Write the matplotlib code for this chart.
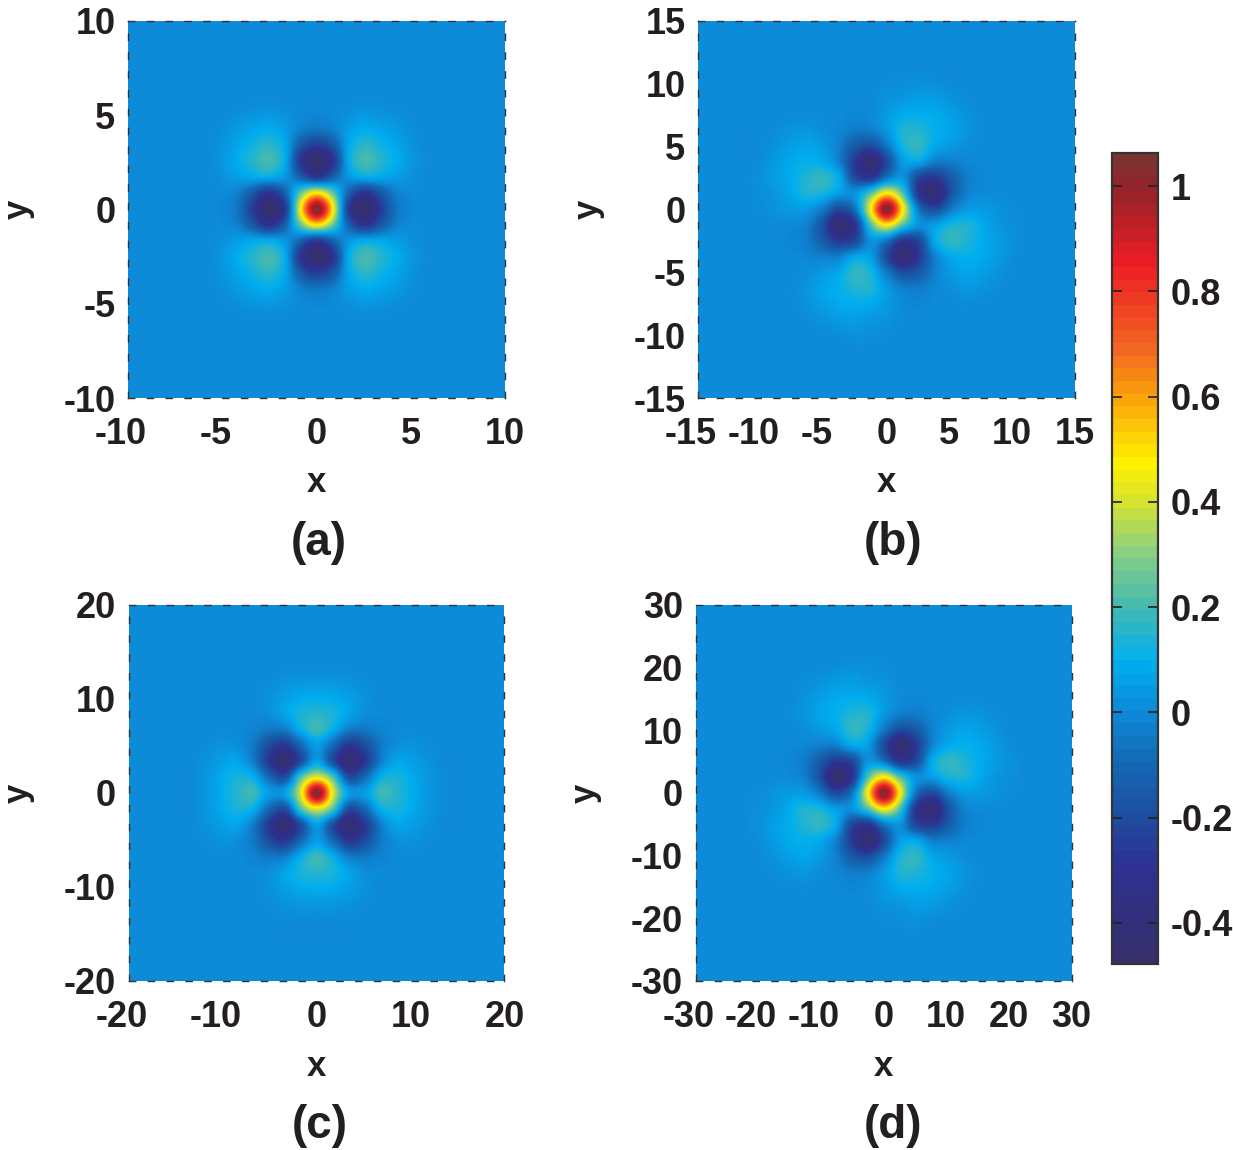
import numpy as np
import matplotlib
matplotlib.use("Agg")
import matplotlib.pyplot as plt
from matplotlib.cm import ScalarMappable
from matplotlib.colors import LinearSegmentedColormap, Normalize
from matplotlib.transforms import ScaledTranslation

plt.rcParams['font.family'] = ['Liberation Sans', 'DejaVu Sans']
plt.rcParams['font.weight'] = 'bold'
plt.rcParams['axes.unicode_minus'] = False

W, H = 1233, 1150
TEXT = '#231F20'

# Values on a 16 px lattice, centre in the first corner.
QUAD_A = [
    [1.05, .48, -.28, -.47, -.26, -.06, -.01, 0, 0],
    [.48, .25, -.13, -.30, -.16, -.03, 0, 0, 0],
    [-.28, -.13, .03, .09, .08, .05, .015, 0, 0],
    [-.47, -.30, .09, .20, .15, .09, .03, 0, 0],
    [-.26, -.16, .08, .16, .12, .07, .02, 0, 0],
    [-.06, -.03, .05, .09, .07, .04, .01, 0, 0],
    [-.01, 0, .015, .03, .02, .01, 0, 0, 0],
    [0, 0, 0, 0, 0, 0, 0, 0, 0],
    [0, 0, 0, 0, 0, 0, 0, 0, 0],
]
QUAD_C = [
    [1.05, .42, .06, .05, .19, .15, .09, .03, 0],
    [.42, .22, -.20, -.10, .10, .13, .08, .03, 0],
    [.06, -.20, -.45, -.28, -.04, .07, .05, .02, 0],
    [.05, -.10, -.28, -.20, -.05, .01, .02, .005, 0],
    [.19, .10, -.04, -.05, -.02, 0, 0, 0, 0],
    [.15, .13, .07, .01, 0, 0, 0, 0, 0],
    [.09, .08, .05, .02, 0, 0, 0, 0, 0],
    [.03, .03, .02, .005, 0, 0, 0, 0, 0],
    [0, 0, 0, 0, 0, 0, 0, 0, 0],
]
# Panel (b): one wedge, right of the centre and at or below it.
CENTRE_B = 1.05
WEDGE_B = [
    [.47, -.07, -.21, -.05, .04, .04, .02, .005],
    [.22, .02, .05, .13, .14, .08, .03, .01],
    [-.30, -.22, .08, .17, .14, .09, .05, .015],
    [-.45, -.27, -.03, .08, .10, .08, .04, .005],
    [-.19, -.15, -.03, .04, .07, .05, .02, 0],
    [-.03, -.04, -.01, .01, .03, .02, .005, 0],
    [0, -.01, 0, 0, .005, 0, 0, 0],
    [0, 0, 0, 0, 0, 0, 0, 0],
    [0, 0, 0, 0, 0, 0, 0, 0],
]

TICKS_A = [-10, -5, 0, 5, 10]
TICKS_B = [-15, -10, -5, 0, 5, 10, 15]
TICKS_C = [-20, -10, 0, 10, 20]
TICKS_D = [-30, -20, -10, 0, 10, 20, 30]
CBAR_TICKS = [-0.4, -0.2, 0, 0.2, 0.4, 0.6, 0.8, 1]
CBAR_LABELS = ['-0.4', '-0.2', '0', '0.2', '0.4', '0.6', '0.8', '1']
VMIN, VMAX = -0.478, 1.063

STOPS = [
    (-0.478, '#362F6C'), (-0.40, '#312F7C'), (-0.30, '#2E3192'), (-0.20, '#1C4FA0'),
    (-0.10, '#1469B4'), (0.0, '#0D8BD9'), (0.094, '#00AEEF'), (0.20, '#45B9B0'),
    (0.30, '#86CF84'), (0.40, '#D7E232'), (0.476, '#FFF200'), (0.60, '#FAA50A'),
    (0.70, '#F26522'), (0.86, '#ED1C24'), (1.0, '#962329'), (1.063, '#7D3232'),
]
SEGMENTS = [((v - VMIN) / (VMAX - VMIN), c) for v, c in STOPS]
cmap = LinearSegmentedColormap.from_list('jetlike', SEGMENTS, N=512)
cmap_bar = LinearSegmentedColormap.from_list('jetbands', SEGMENTS, N=64)
norm = Normalize(VMIN, VMAX)


def mirror(q):
    q = np.array(q, dtype=float)
    return np.pad(q, ((8, 0), (8, 0)), mode='reflect')


def turn(centre, wedge):
    base = np.zeros((17, 17))
    base[8:17, 9:17] = np.array(wedge, dtype=float)
    full = sum(np.rot90(base, k) for k in range(4))
    full[8, 8] = centre
    return full


FIELD_B = turn(CENTRE_B, WEDGE_B)
PANELS = [
    (mirror(QUAD_A), 10, TICKS_A, (128, 21, 505, 398), '(a)', (319, 543)),
    (FIELD_B, 15, TICKS_B, (698, 21, 1075, 398), '(b)', (893, 543)),
    (mirror(QUAD_C), 20, TICKS_C, (128, 605, 505, 981), '(c)', (320, 1126)),
    (FIELD_B[:, ::-1], 30, TICKS_D, (695, 605, 1072, 981), '(d)', (893, 1126)),
]

fig = plt.figure(figsize=(W / 100, H / 100), dpi=100, facecolor='white')


def box(x0, y0, x1, y1):
    return [x0 / W, 1 - y1 / H, (x1 - x0) / W, (y1 - y0) / H]


for field, rng, ticks, px, tag, tag_pos in PANELS:
    ax = fig.add_axes(box(*px))
    half = 136 / ((px[2] - px[0]) / 2) * rng
    ax.set_facecolor(cmap(norm(0.0)))
    ax.imshow(field, cmap=cmap, norm=norm, extent=(-half, half, -half, half),
              interpolation='catrom', interpolation_stage='data', zorder=1)
    ax.set_xlim(-rng, rng)
    ax.set_ylim(-rng, rng)
    ax.set_xticks(ticks)
    ax.set_yticks(ticks)
    ax.set_xticklabels([str(t) for t in ticks])
    ax.set_yticklabels([str(t) for t in ticks])
    ax.tick_params(axis='both', length=0, labelsize=26, labelcolor=TEXT)
    ax.tick_params(axis='x', pad=14)
    ax.tick_params(axis='y', pad=9)
    for tick, t in zip(ax.xaxis.get_major_ticks(), ticks):
        if t < 0:
            lab = tick.label1
            lab.set_transform(lab.get_transform() +
                              ScaledTranslation(-7 / 100, 0, fig.dpi_scale_trans))
    for spine in ax.spines.values():
        spine.set_color('#333333')
        spine.set_linewidth(1.0)
        spine.set_linestyle((0, (4.5, 9.07)))
    cx = (px[0] + px[2]) / 2
    cy = (px[1] + px[3]) / 2
    fig.text(cx / W, 1 - (px[3] + 85) / H, 'x', ha='center', va='center',
             fontsize=25, color=TEXT)
    fig.text((px[0] - 110) / W, 1 - cy / H, 'y', ha='center', va='center',
             rotation=90, fontsize=25, color=TEXT)
    fig.text(tag_pos[0] / W, 1 - tag_pos[1] / H, tag, ha='center', va='center',
             fontsize=33, color=TEXT)

cax = fig.add_axes(box(1112, 153, 1158, 964))
bar = fig.colorbar(ScalarMappable(norm=norm, cmap=cmap_bar), cax=cax, ticks=CBAR_TICKS)
bar.ax.set_yticklabels(CBAR_LABELS)
bar.ax.tick_params(axis='y', direction='in', left=True, right=True, length=7, width=1.2,
                   color='#231F20', labelsize=26, labelcolor=TEXT, pad=9)
bar.outline.set_edgecolor('#333333')
bar.outline.set_linewidth(1.6)

fig.savefig('out.png', dpi=100)
